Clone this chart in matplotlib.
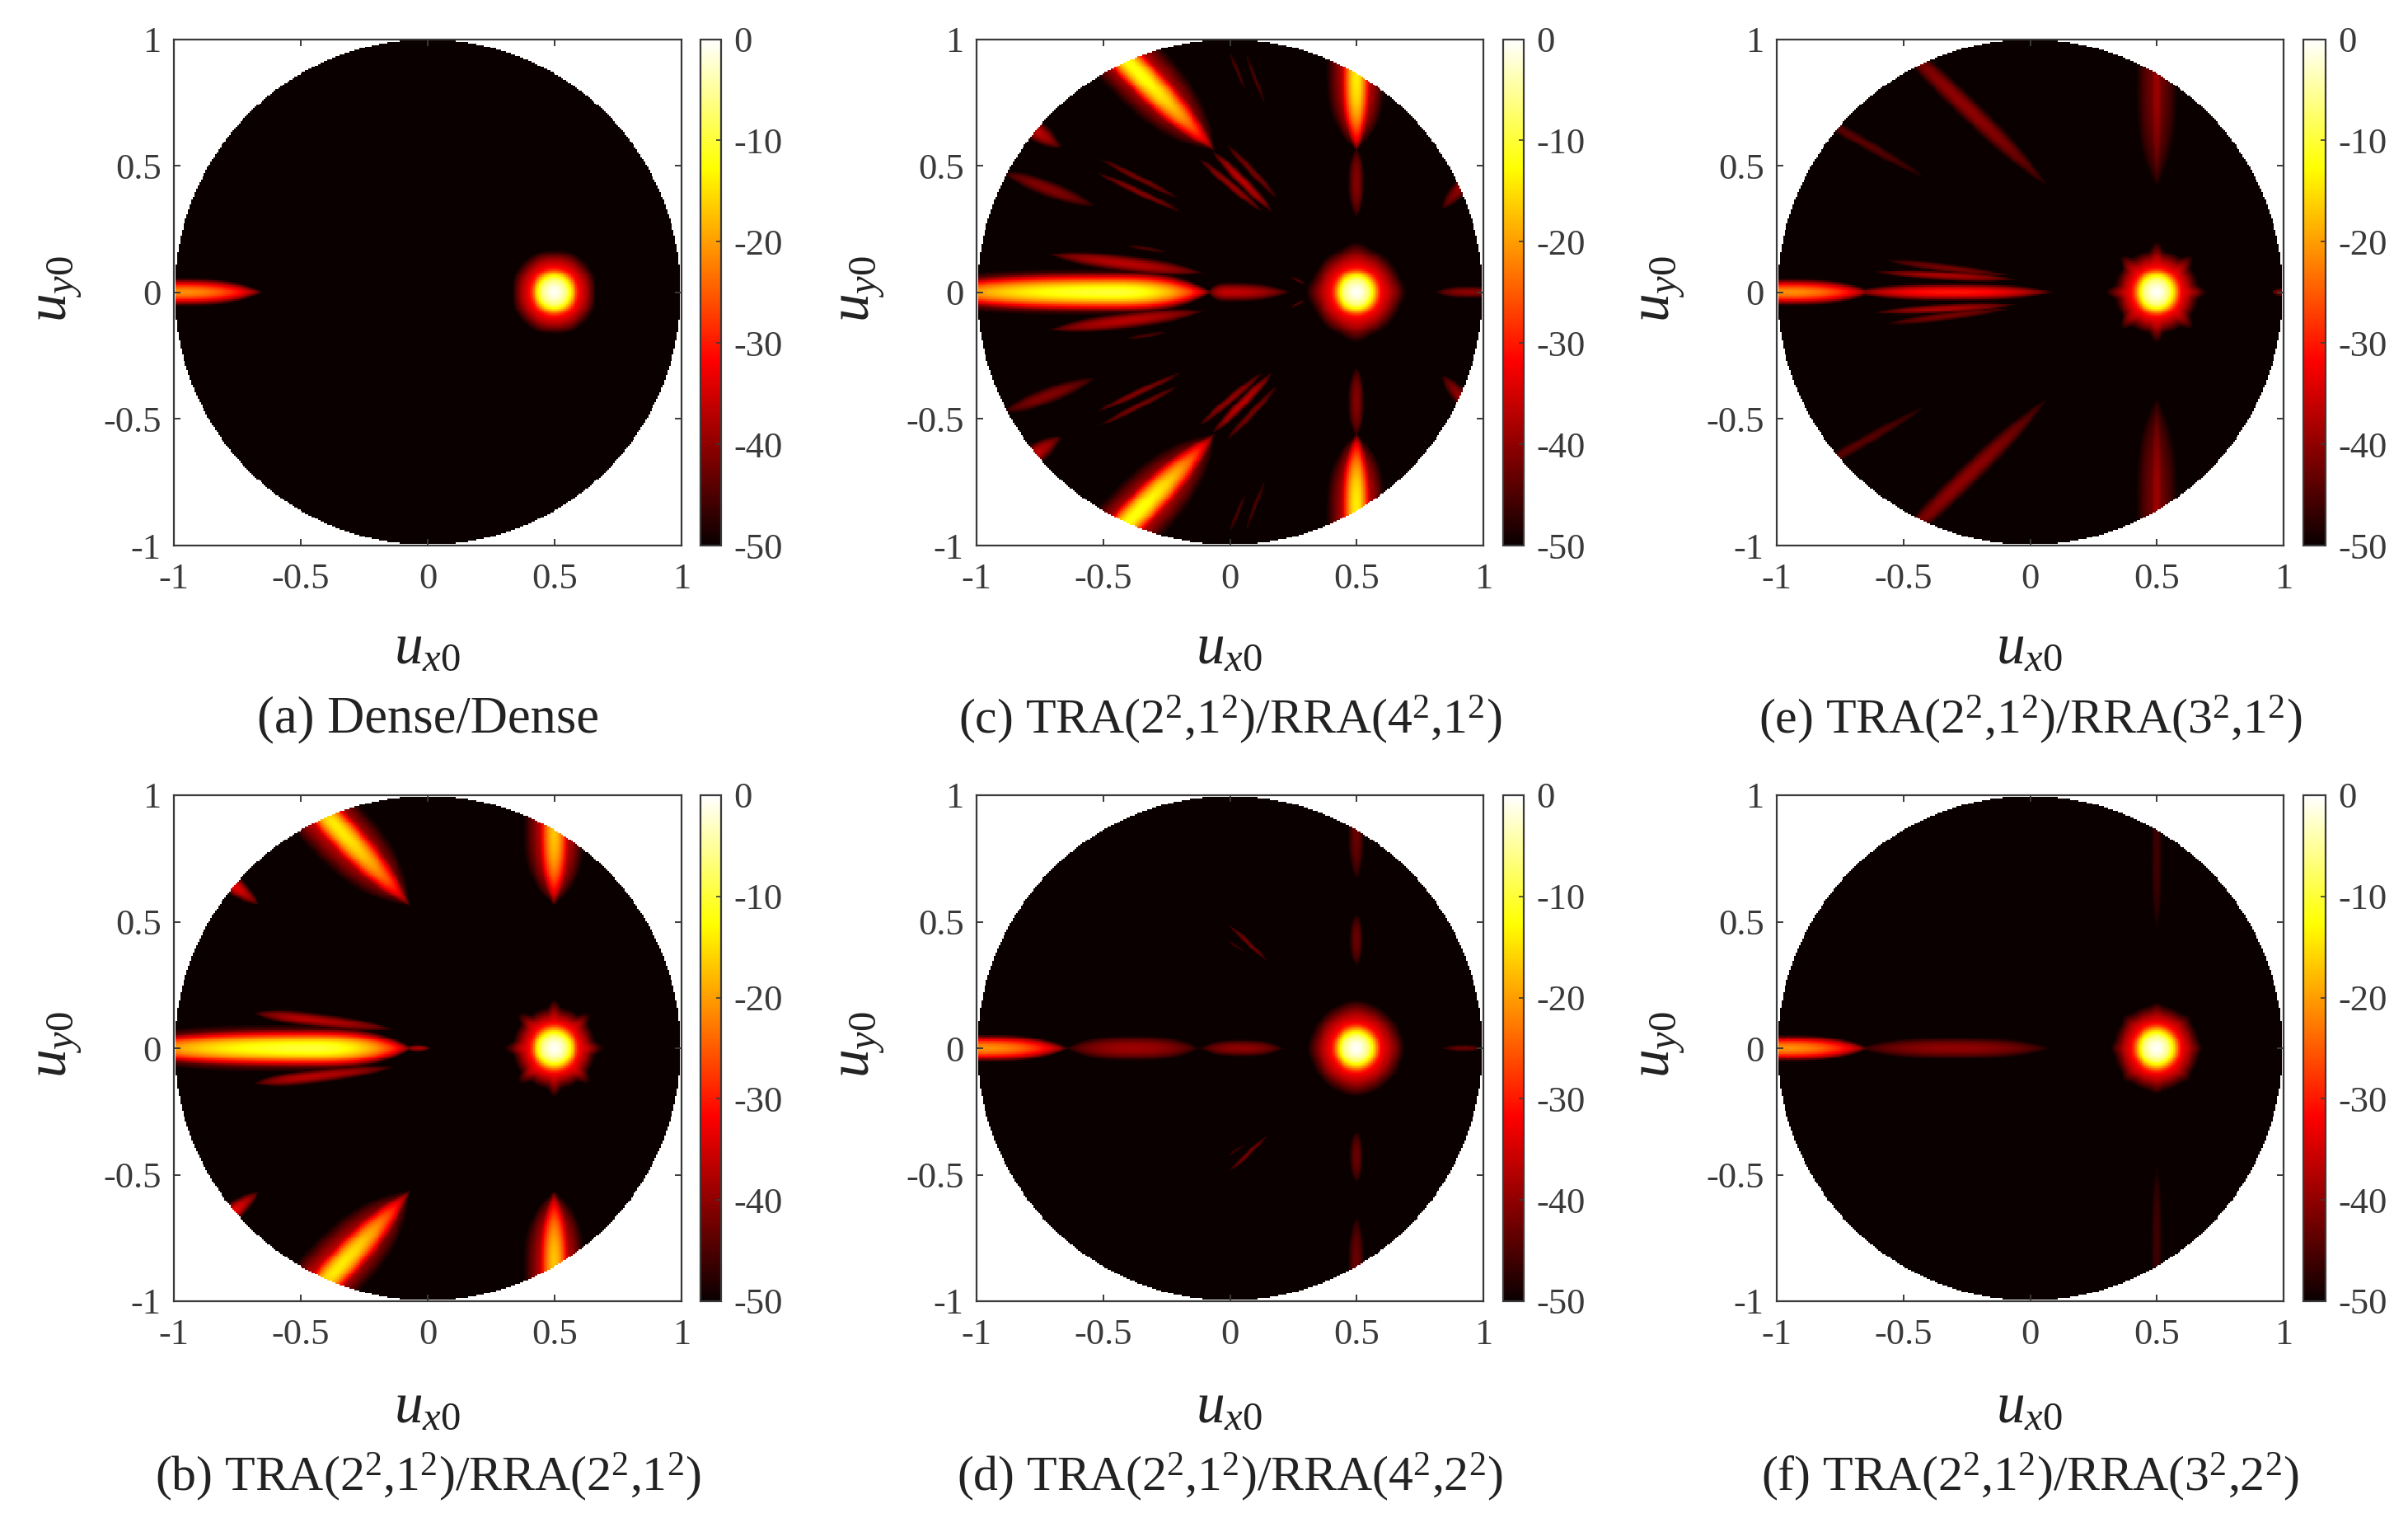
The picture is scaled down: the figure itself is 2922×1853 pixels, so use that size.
import numpy as np
import matplotlib
matplotlib.use("Agg")
import matplotlib.pyplot as plt

plt.rcParams['font.family'] = ['Liberation Serif', 'DejaVu Serif']
plt.rcParams['mathtext.fontset'] = 'custom'
plt.rcParams['mathtext.rm'] = 'Liberation Serif'
plt.rcParams['mathtext.it'] = 'Liberation Serif:italic'
plt.rcParams['mathtext.bf'] = 'Liberation Serif:bold'

FW, FH = 2922, 1853
FLOOR = -50.0

# main-lobe radial cut: radius (u) and level (dB)
MAIN_R = [0.0, 0.025, 0.05, 0.07, 0.09, 0.10, 0.13, 0.175]
MAIN_DB = [0.0, -2.0, -7.0, -16.0, -28.0, -32.0, -38.0, -50.0]

# sidelobes, upper half plane (mirrored in y): x1, y1, x2, y2, half width, peak dB, peak position
LOBES_A = [(-1.3, 0, -0.65, 0, 0.056, -21, 0.5)]
LOBES_B = [
    (-1.35, 0, -0.06, 0, 0.084, -10, 0.70),
    (-1.35, 0, -0.06, 0, 0.095, -33, 0.62),
    (-0.09, 0, 0.01, 0, 0.014, -38, 0.5),
    (-0.69, 0.14, -0.135, 0.075, 0.03, -37, 0.4),
    (-0.07, 0.565, -0.58, 1.10, 0.135, -33, 0.62),
    (-0.07, 0.565, -0.50, 1.03, 0.085, -14, 0.68),
    (0.5, 0.565, 0.5, 1.12, 0.125, -33, 0.55),
    (0.5, 0.565, 0.5, 1.05, 0.075, -17, 0.60),
    (-0.86, 0.72, -0.67, 0.57, 0.04, -33, 0.35),
]
LOBES_C = [
    (-1.35, 0, -0.07, 0, 0.084, -10, 0.70),
    (-1.35, 0, -0.07, 0, 0.095, -33, 0.62),
    (-0.09, 0, 0.24, 0, 0.04, -36, 0.25),
    (-0.72, 0.15, -0.10, 0.075, 0.034, -37, 0.5),
    (-0.41, 0.185, -0.25, 0.16, 0.009, -45, 0.5),
    (0.81, 0, 1.08, 0, 0.026, -40, 0.5),
    (0.5, 0.56, 0.5, 1.15, 0.12, -33, 0.52),
    (0.5, 0.56, 0.5, 1.08, 0.072, -14, 0.55),
    (0.5, 0.30, 0.5, 0.57, 0.034, -41, 0.5),
    (-0.06, 0.56, -0.62, 1.14, 0.135, -33, 0.60),
    (-0.06, 0.56, -0.55, 1.06, 0.085, -12, 0.65),
    (-0.125, 0.53, 0.13, 0.317, 0.018, -40, 0.5),
    (-0.07, 0.56, 0.17, 0.317, 0.022, -37, 0.5),
    (-0.015, 0.587, 0.19, 0.37, 0.016, -42, 0.5),
    (-0.52, 0.53, -0.20, 0.37, 0.014, -42, 0.5),
    (-0.53, 0.475, -0.19, 0.317, 0.015, -41, 0.5),
    (-0.895, 0.475, -0.535, 0.34, 0.034, -41, 0.45),
    (-0.88, 0.72, -0.67, 0.57, 0.045, -36, 0.4),
    (0.96, 0.47, 0.84, 0.33, 0.034, -40, 0.35),
    (0.0, 0.95, 0.06, 0.80, 0.009, -45, 0.5),
    (0.06, 0.95, 0.14, 0.74, 0.009, -45, 0.5),
    (0.24, 0.06, 0.30, 0.03, 0.006, -44, 0.5),
]
LOBES_D = [
    (-1.3, 0, -0.64, 0, 0.056, -21, 0.5),
    (-0.65, 0, -0.12, 0, 0.052, -39, 0.5),
    (-0.12, 0, 0.21, 0, 0.034, -40, 0.5),
    (0.84, 0, 1.0, 0, 0.014, -43, 0.55),
    (0.5, 0.33, 0.5, 0.53, 0.028, -43, 0.5),
    (0.5, 0.67, 0.5, 1.0, 0.034, -43, 0.55),
    (-0.004, 0.49, 0.148, 0.346, 0.011, -42, 0.5),
    (-0.01, 0.43, 0.06, 0.38, 0.006, -46, 0.5),
]
LOBES_E = [
    (-1.3, 0, -0.62, 0, 0.054, -21, 0.5),
    (-0.72, 0, 0.10, 0, 0.036, -30, 0.5),
    (-0.62, 0.08, -0.06, 0.05, 0.02, -38, 0.5),
    (-0.57, 0.125, -0.08, 0.065, 0.018, -42, 0.5),
    (0.07, 0.42, -0.56, 1.03, 0.045, -40, 0.55),
    (-0.41, 0.45, -0.85, 0.70, 0.024, -44, 0.7),
    (0.5, 0.42, 0.5, 1.0, 0.085, -42, 0.72),
    (0.5, 0.42, 0.5, 1.0, 0.034, -39, 0.7),
    (0.95, 0, 1.06, 0, 0.02, -40, 0.55),
]
LOBES_F = [
    (-1.3, 0, -0.64, 0, 0.054, -21, 0.5),
    (-0.68, 0, 0.08, 0, 0.044, -40, 0.5),
    (0.5, 0.47, 0.5, 1.05, 0.022, -46, 0.5),
]

# main-lobe outer skirt per panel: reach scale, number of star points, star strength
SKIRT_A = (0.95, 4, -0.06)
SKIRT_B = (0.85, 8, 0.5)
SKIRT_C = (1.1, 4, 0.2)
SKIRT_D = (1.15, 4, 0.08)
SKIRT_E = (0.9, 8, 0.5)
SKIRT_F = (0.95, 8, 0.15)

TITLES = {
    'a': '(a) Dense/Dense',
    'b': '(b) TRA(2$^2$,1$^2$)/RRA(2$^2$,1$^2$)',
    'c': '(c) TRA(2$^2$,1$^2$)/RRA(4$^2$,1$^2$)',
    'd': '(d) TRA(2$^2$,1$^2$)/RRA(4$^2$,2$^2$)',
    'e': '(e) TRA(2$^2$,1$^2$)/RRA(3$^2$,1$^2$)',
    'f': '(f) TRA(2$^2$,1$^2$)/RRA(3$^2$,2$^2$)',
}
TICKS = [-1, -0.5, 0, 0.5, 1]
TICK_LABELS = ['-1', '-0.5', '0', '0.5', '1']
CB_TICKS = [0, -10, -20, -30, -40, -50]
CB_LABELS = ['0', '-10', '-20', '-30', '-40', '-50']

COLUMNS = [(211, 827, 850, 875), (1185, 1800, 1824, 1849), (2156, 2771, 2795, 2822)]
ROWS = [(47.5, 662), (965, 1579)]
PANELS = [
    ('a', 0, 0, LOBES_A, SKIRT_A), ('b', 0, 1, LOBES_B, SKIRT_B),
    ('c', 1, 0, LOBES_C, SKIRT_C), ('d', 1, 1, LOBES_D, SKIRT_D),
    ('e', 2, 0, LOBES_E, SKIRT_E), ('f', 2, 1, LOBES_F, SKIRT_F),
]

INK = '#3a3a3a'
N = 321
grid = np.linspace(-1, 1, N)
X, Y = np.meshgrid(grid, grid)
R2 = X**2 + Y**2


def lobe_db(x, y, lobe):
    x1, y1, x2, y2, w, peak, c = lobe
    dx, dy = x2 - x1, y2 - y1
    L = np.hypot(dx, dy)
    t = ((x - x1) * dx + (y - y1) * dy) / L**2
    s = (-(x - x1) * dy + (y - y1) * dx) / L
    u = np.where(t < c, (t - c) / c, (t - c) / (1 - c))
    inside = np.abs(u) < 1
    wu = np.where(inside, w * (1 - np.abs(u)**3), 1.0)
    a = (1 - (s / wu)**2) * np.sqrt(np.clip(1 - u**2, 0, 1))
    a = np.where(inside, np.clip(a, 0, 1), 0)**1.25
    return FLOOR + (peak - FLOOR) * a


def field(lobes, skirt):
    z = np.full_like(X, FLOOR)
    for lb in lobes:
        z = np.maximum(z, lobe_db(X, Y, lb))
        z = np.maximum(z, lobe_db(X, -Y, lb))
    scale, n, amp = skirt
    dx, dy = X - 0.5, Y
    r = np.hypot(dx, dy)
    th = np.arctan2(dy, dx)
    mod = np.clip(np.cos(n * th), 0, 1)**2
    reff = np.where(r < 0.1, r, 0.1 + (r - 0.1) / (scale * (1 + amp * mod)))
    z = np.maximum(z, np.interp(reff, MAIN_R, MAIN_DB))
    return np.where(R2 <= 1.0, z, np.nan)


fig = plt.figure(figsize=(FW / 100, FH / 100), dpi=100, facecolor='white')


def box(l, r, t, b):
    return [l / FW, 1 - b / FH, (r - l) / FW, (b - t) / FH]


TICK_FS = 32
for key, col, row, lobes, skirt in PANELS:
    l, r, cl, cr = COLUMNS[col]
    t, b = ROWS[row]
    ax = fig.add_axes(box(l, r, t, b))
    cmap = plt.get_cmap('hot').copy()
    cmap.set_bad('white')
    im = ax.imshow(field(lobes, skirt), origin='lower', extent=[-1, 1, -1, 1], cmap=cmap,
                   vmin=FLOOR, vmax=0, interpolation='nearest', aspect='auto')
    ax.set_xticks(TICKS, TICK_LABELS)
    ax.set_yticks(TICKS, TICK_LABELS)
    ax.tick_params(direction='in', length=6, width=1.4, color=INK, top=True, right=True,
                   labelsize=TICK_FS, labelcolor=INK)
    ax.tick_params(axis='x', pad=15)
    ax.tick_params(axis='y', pad=11)
    for sp in ax.spines.values():
        sp.set_linewidth(1.6)
        sp.set_color(INK)
    cax = fig.add_axes(box(cl, cr, t, b))
    cb = fig.colorbar(im, cax=cax)
    cb.set_ticks(CB_TICKS, labels=CB_LABELS)
    cb.ax.tick_params(direction='in', length=4, width=1.2, color=INK, labelsize=TICK_FS,
                      labelcolor=INK, pad=11)
    cb.outline.set_linewidth(1.6)
    cb.outline.set_edgecolor(INK)
    xc = (l + r) / 2
    fig.text((xc - 1) / FW, 1 - (b + (126 if row == 0 else 130)) / FH, '$u_{x0}$', fontsize=50, color='#222222',
             ha='center', va='center')
    fig.text((l - 141) / FW, 1 - ((t + b) / 2 - 4) / FH, '$u_{y0}$', fontsize=50, color='#222222',
             rotation=90, ha='center', va='center')
    fig.text(xc / FW, 1 - (b + (211 if row == 0 else 213)) / FH, TITLES[key],
             fontsize=45 if key == 'a' else 43, color='#222222', ha='center', va='center')

fig.savefig('out.png', dpi=100, facecolor='white')
